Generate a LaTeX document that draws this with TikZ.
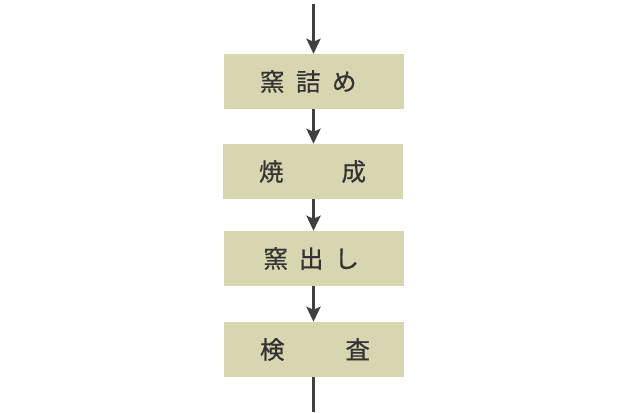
\documentclass[tikz,border=0pt]{standalone}
\usepackage{fontspec}
\newfontfamily\jp[FakeBold=0.6]{Noto Sans CJK JP}
\usetikzlibrary{arrows.meta}
\definecolor{boxfill}{HTML}{D8D5B1}
\definecolor{arrowcol}{HTML}{404040}
\definecolor{txtcol}{HTML}{333333}
\tikzset{
  stepbox/.style={fill=boxfill, draw=none, minimum width=180pt, minimum height=55pt, inner sep=0pt, text=txtcol, font=\jp\fontsize{24.5pt}{24.5pt}\selectfont},
  flow/.style={draw=arrowcol, line width=3pt, -{Stealth[length=15pt,width=14pt,inset=3pt]}},
  plainline/.style={draw=arrowcol, line width=3pt}
}
\newcommand{\boxtxt}[1]{\makebox[180pt][l]{\hspace{36pt}\raisebox{-1.5pt}{#1}}}
\begin{document}
\begin{tikzpicture}[x=1pt,y=-1pt]
\useasboundingbox (0,0) rectangle (626,412);
\node[stepbox] (b1) at (314,81.5) {\boxtxt{窯\hspace{11.5pt}詰\hspace{11.5pt}め}};
\node[stepbox] (b2) at (313,171.5) {\boxtxt{焼\hspace{58pt}成}};
\node[stepbox] (b3) at (314,258.5) {\boxtxt{\hspace{3.5pt}窯\hspace{11pt}出\hspace{11pt}し}};
\node[stepbox] (b4) at (314,349.5) {\boxtxt{検\hspace{61pt}査}};
\coordinate (top) at (313.5,4);
\coordinate (bot) at (313.5,412);
\draw[flow] (top) -- (top |- b1.north);
\draw[flow] (b1.south -| top) -- (top |- b2.north);
\draw[flow] (b2.south -| top) -- (top |- b3.north);
\draw[flow] (b3.south -| top) -- (top |- b4.north);
\draw[plainline] (b4.south -| top) -- (bot);
\end{tikzpicture}
\end{document}
